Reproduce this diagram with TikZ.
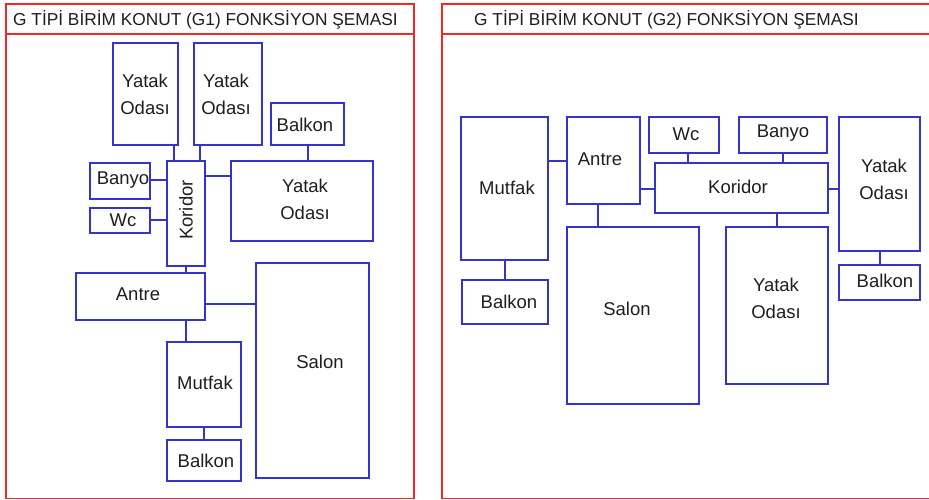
\documentclass[tikz,border=0pt]{standalone}
\usepackage{fontspec}
\setmainfont{Liberation Sans}
\usetikzlibrary{fit}
\definecolor{roomblue}{RGB}{52,52,204}
\definecolor{panelred}{RGB}{242,40,40}
\definecolor{txtgray}{RGB}{30,30,30}
\tikzset{
  room/.style={draw=roomblue, line width=1.3pt, inner sep=0pt, outer sep=0pt},
  link/.style={draw=roomblue, line width=1.3pt},
  panel/.style={draw=panelred, line width=1.6pt},
  lbl/.style={text=txtgray, font=\fontsize{18.5}{27}\selectfont, align=center, inner sep=0pt},
  ttl/.style={text=txtgray, font=\fontsize{17.3}{20}\selectfont, inner sep=0pt, anchor=base west},
}
\newcommand\mkroom[5]{\node[room, fit={(#2,#3) (#4,#5)}] (#1) {};}
\begin{document}
\begin{tikzpicture}[x=1pt,y=-1pt]
\useasboundingbox (0,0) rectangle (929,500);
\clip (0,0) rectangle (929,500);
% panels
\draw[panel] (6,4) rectangle (414,498.5);
\draw[panel] (6,34) -- (414,34);
\draw[panel] (442,4) rectangle (940,498.5);
\draw[panel] (442,34) -- (940,34);
\node[ttl] (t1) at (13,26) {G TİPİ BİRİM KONUT (G1) FONKSİYON ŞEMASI};
\node[ttl] (t2) at (474,26) {G TİPİ BİRİM KONUT (G2) FONKSİYON ŞEMASI};
% ---------- G1 ----------
\mkroom{ay1}{113}{43}{178}{145}
\mkroom{ay2}{194}{43}{262}{145}
\mkroom{abt}{271}{103}{344}{145}
\mkroom{aba}{90}{163}{150}{199}
\mkroom{awc}{90}{208}{150}{233}
\mkroom{ako}{167}{161}{205}{266}
\mkroom{ay3}{231}{161}{373}{241}
\mkroom{aan}{76}{273}{205}{320}
\mkroom{asa}{256}{263}{369}{478}
\mkroom{amu}{167}{342}{241}{427}
\mkroom{abb}{167}{440}{241}{481}
\node[lbl] (lay1) at (145,94) {Yatak\\Odası};
\node[lbl] (lay2) at (226,94) {Yatak\\Odası};
\node[lbl] (labt) at (305,125) {Balkon};
\node[lbl] (laba) at (123,180) {Banyo};
\node[lbl] (lawc) at (123,220) {Wc};
\node[lbl, rotate=90] (lako) at (186,210) {Koridor};
\node[lbl] (lay3) at (305,199) {Yatak\\Odası};
\node[lbl] (laan) at (138,294) {Antre};
\node[lbl] (lasa) at (320,362) {Salon};
\node[lbl] (lamu) at (205,383) {Mutfak};
\node[lbl] (labb) at (206,461) {Balkon};
\draw[link] (ay1.south -| 174,0) -- (ako.north -| 174,0);
\draw[link] (ay2.south -| 200,0) -- (ako.north -| 200,0);
\draw[link] (abt.south -| 308,0) -- (ay3.north -| 308,0);
\draw[link] (aba.east |- 0,180) -- (ako.west |- 0,180);
\draw[link] (awc.east |- 0,220) -- (ako.west |- 0,220);
\draw[link] (ako.east |- 0,176) -- (ay3.west |- 0,176);
\draw[link] (ako.south -| 186,0) -- (aan.north -| 186,0);
\draw[link] (aan.east |- 0,304) -- (asa.west |- 0,304);
\draw[link] (aan.south -| 186,0) -- (amu.north -| 186,0);
\draw[link] (amu.south -| 204,0) -- (abb.north -| 204,0);
% ---------- G2 ----------
\mkroom{bmu}{461}{117}{548}{260}
\mkroom{bbl}{462}{280}{548}{324}
\mkroom{ban}{567}{117}{640}{204}
\mkroom{bwc}{649}{117}{719}{153}
\mkroom{bba}{739}{117}{827}{153}
\mkroom{bko}{655}{163}{828}{213}
\mkroom{byr}{839}{117}{920}{251}
\mkroom{bbr}{839}{265}{920}{300}
\mkroom{bsa}{567}{227}{699}{404}
\mkroom{byb}{726}{227}{828}{384}
\node[lbl] (lbmu) at (507,188) {Mutfak};
\node[lbl] (lbbl) at (509,302) {Balkon};
\node[lbl] (lban) at (600,159) {Antre};
\node[lbl] (lbwc) at (686,134) {Wc};
\node[lbl] (lbba) at (783,133) {Banyo};
\node[lbl] (lbko) at (738,187) {Koridor};
\node[lbl] (lbyr) at (884,179) {Yatak\\Odası};
\node[lbl] (lbbr) at (885,281) {Balkon};
\node[lbl] (lbsa) at (627,309) {Salon};
\node[lbl] (lbyb) at (776,298) {Yatak\\Odası};
\draw[link] (bmu.east |- 0,161) -- (ban.west |- 0,161);
\draw[link] (bmu.south -| 505,0) -- (bbl.north -| 505,0);
\draw[link] (ban.east |- 0,189) -- (bko.west |- 0,189);
\draw[link] (bwc.south -| 688,0) -- (bko.north -| 688,0);
\draw[link] (bba.south -| 783,0) -- (bko.north -| 783,0);
\draw[link] (bko.east |- 0,189) -- (byr.west |- 0,189);
\draw[link] (byr.south -| 880,0) -- (bbr.north -| 880,0);
\draw[link] (ban.south -| 598,0) -- (bsa.north -| 598,0);
\draw[link] (bko.south -| 777,0) -- (byb.north -| 777,0);
\end{tikzpicture}
\end{document}
